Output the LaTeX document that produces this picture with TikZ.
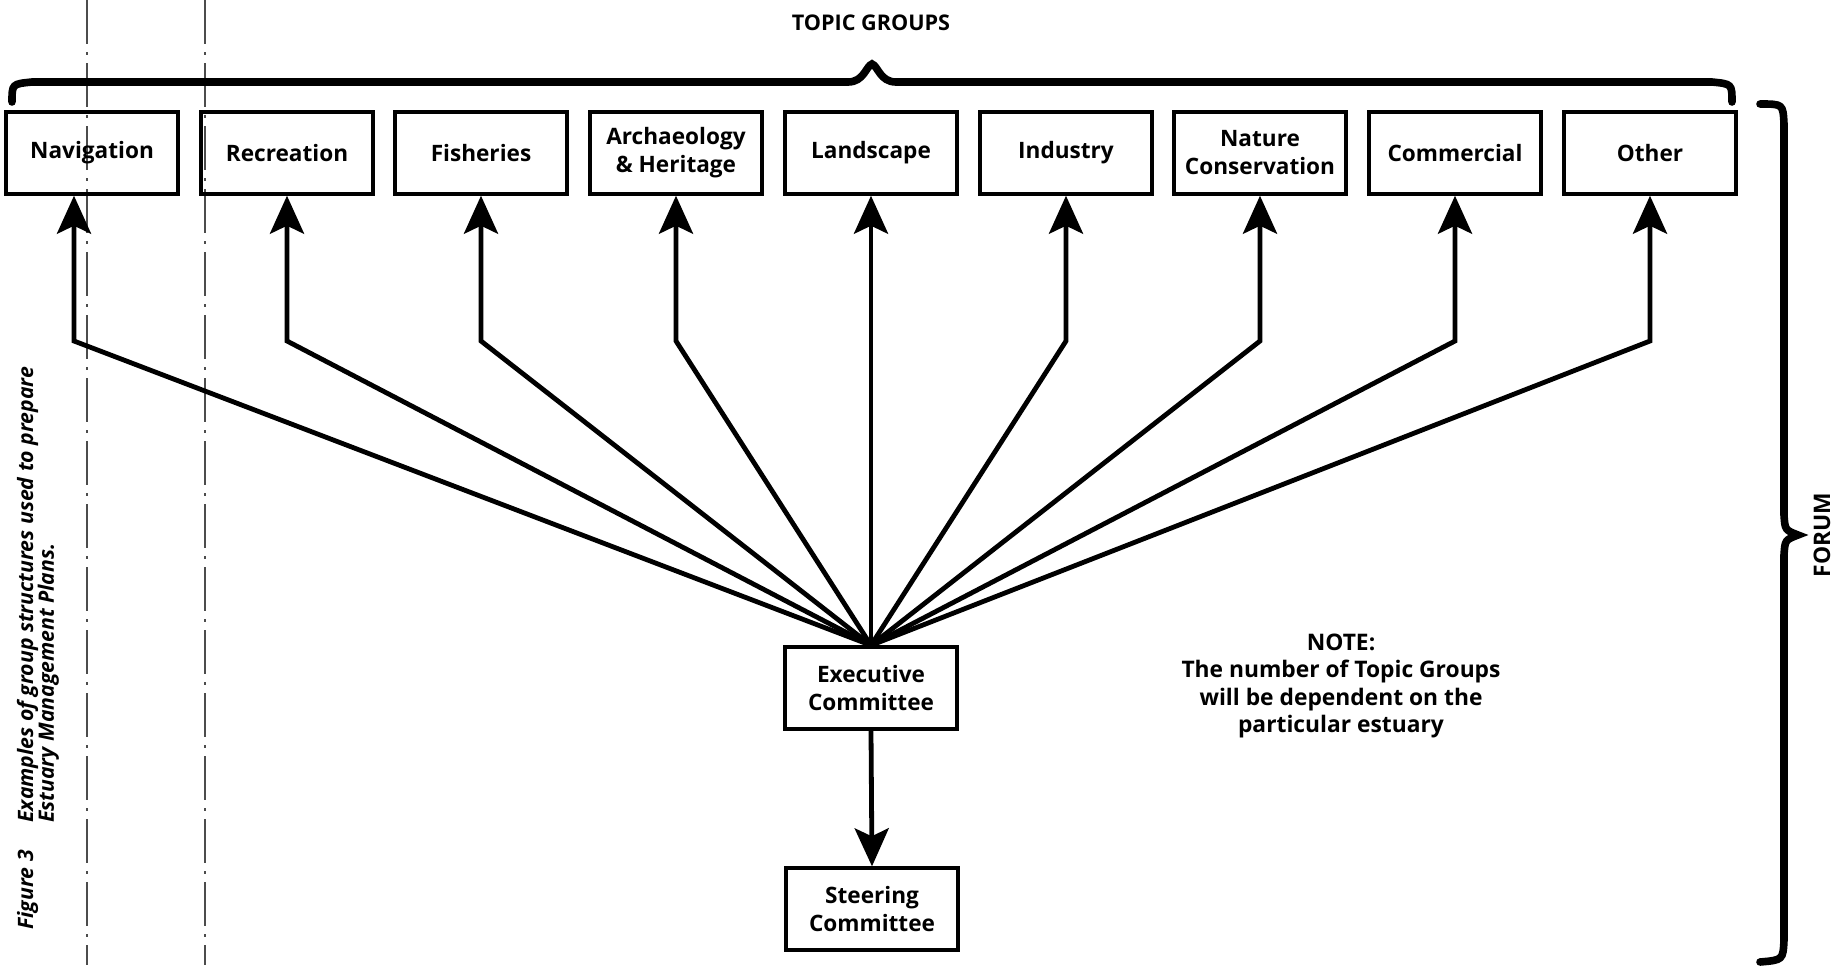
\documentclass[tikz,border=0pt]{standalone}
\usepackage{fontspec}
\setmainfont{Open Sans}
\usetikzlibrary{arrows.meta}
\begin{document}
\begin{tikzpicture}[x=0.5pt,y=-0.5pt,
  group/.style={draw,line width=1.7pt,minimum width=86pt,minimum height=41pt,inner sep=1pt,
    align=center,font=\bfseries\fontsize{11.3}{14}\selectfont},
  link/.style={line width=2.4pt,-{Stealth[length=19pt,width=17pt,inset=4pt]}},
  brace/.style={line width=3.8pt,line cap=round},
  label/.style={align=center,font=\bfseries\fontsize{11.4}{13.8}\selectfont},
  caption/.style={rotate=90,anchor=base west,inner sep=0pt,font=\bfseries\itshape\fontsize{10.6}{12}\selectfont},
  cutline/.style={line width=0.7pt,black!70,dash pattern=on 22pt off 4pt on 1.5pt off 4pt}]
\useasboundingbox (0,0) rectangle (1844,965);
\draw[cutline] (87,0) -- (87,965);
\draw[cutline] (205,0) -- (205,965);
\node (title) [label,font=\bfseries\fontsize{10.8}{13}\selectfont] at (871,23) {TOPIC GROUPS};
\draw[brace] (12,102) .. controls (12,84) .. (32,82) -- (848,82)
   .. controls (864,82) and (866,66) .. (872,64) .. controls (878,66) and (880,82) .. (896,82)
   -- (1712,82) .. controls (1732,84) .. (1732,102);
\node (nav) [group] at (92,153) {Navigation};
\node (rec) [group] at (287,153) {Recreation};
\node (fish) [group] at (481,153) {Fisheries};
\node (arch) [group] at (676,153) {Archaeology\\\& Heritage};
\node (land) [group] at (871,153) {Landscape};
\node (ind) [group] at (1066,153) {Industry};
\node (nat) [group] at (1260,153) {Nature\\Conservation};
\node (com) [group] at (1455,153) {Commercial};
\node (oth) [group] at (1650,153) {Other};
\node (exec) [group] at (871,688) {Executive\\Committee};
\node (steer) [group] at (872,909) {Steering\\Committee};
\coordinate (kink) at (74,341);
\draw[link] (exec.north) -- (kink) -- (kink |- nav.south);
\draw[link] (exec.north) -- (rec.south |- kink) -- (rec.south);
\draw[link] (exec.north) -- (fish.south |- kink) -- (fish.south);
\draw[link] (exec.north) -- (arch.south |- kink) -- (arch.south);
\draw[link] (exec.north) -- (land.south);
\draw[link] (exec.north) -- (ind.south |- kink) -- (ind.south);
\draw[link] (exec.north) -- (nat.south |- kink) -- (nat.south);
\draw[link] (exec.north) -- (com.south |- kink) -- (com.south);
\draw[link] (exec.north) -- (oth.south |- kink) -- (oth.south);
\draw[link] (exec.south) -- (steer.north);
\node (note) [label] at (1341,686) {NOTE:\\The number of Topic Groups\\will be dependent on the\\particular estuary};
\draw[brace] (1760,104) .. controls (1783,104) .. (1784,124) -- (1784,515)
   .. controls (1785,530) .. (1798,535) .. controls (1785,540) .. (1784,555)
   -- (1784,940) .. controls (1783,960) .. (1760,962);
\node (forum) [label,rotate=90] at (1822,535) {FORUM};
\node (fig) [caption] at (33,930) {Figure 3};
\node (capa) [caption] at (33,823) {Examples of group structures used to prepare};
\node (capb) [caption] at (54,823) {Estuary Management Plans.};
\end{tikzpicture}
\end{document}
